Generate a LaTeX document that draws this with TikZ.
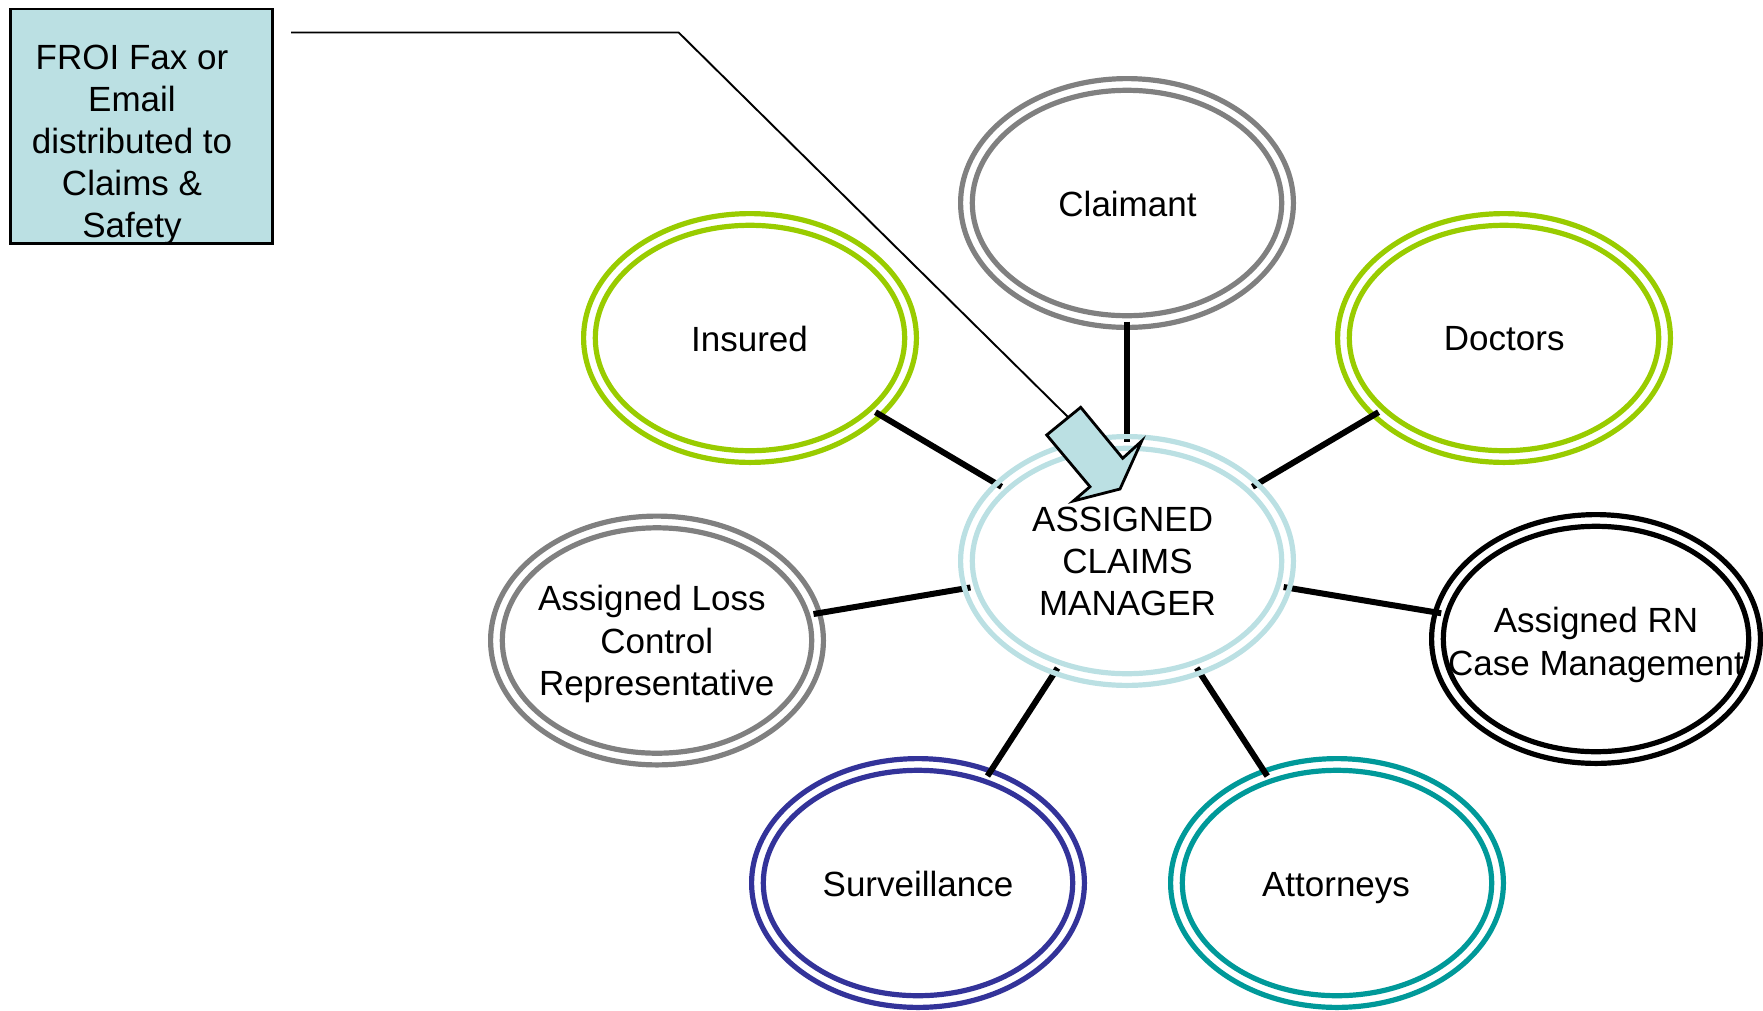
\documentclass[tikz,border=0pt]{standalone}
\usepackage{fontspec}
\setmainfont{Liberation Sans}
\usetikzlibrary{shapes.geometric,calc,backgrounds}
\definecolor{lblue}{HTML}{BBE0E3}
\definecolor{ringgray}{HTML}{808080}
\definecolor{ringgreen}{HTML}{99CC00}
\definecolor{ringnavy}{HTML}{333399}
\definecolor{ringteal}{HTML}{009999}
\tikzset{
  ring/.style={ellipse, draw=#1, line width=5.2pt, inner sep=0pt, outer sep=0pt,
    minimum width=332.8pt, minimum height=248.8pt,
    path picture={\draw[#1, line width=5.2pt] (path picture bounding box.center)
      ellipse [x radius=154.7pt, y radius=112.7pt];}},
  txt/.style={align=center, inner sep=0pt, font=\fontsize{35pt}{42.2pt}\selectfont},
  conn/.style={line width=6pt, black, shorten <=-5.85pt, shorten >=-5.85pt},
  froibox/.style={rectangle, draw=black, fill=lblue, line width=2.8pt,
    minimum width=262.2pt, minimum height=234.7pt, inner sep=0pt},
  pointer/.style={line width=1.9pt, black},
  blockarrow/.style={draw=black, fill=lblue, line width=2.8pt, line join=miter}
}
\begin{document}
\begin{tikzpicture}[x=1pt,y=-1pt]
\useasboundingbox (0,0) rectangle (1763,1010);

% central ring (drawn above the connectors)
\node[ring=lblue] (c) at (1127,561) {};

% satellite rings and connectors, below the central ring
\begin{scope}[on background layer]
  \node[ring=ringgray] (claimant) at (1127,203) {};
  \node[ring=ringgreen] (insured) at (750,338) {};
  \node[ring=ringgreen] (doctors) at (1504,338) {};
  \node[ring=ringgray] (loss) at (657,640.5) {};
  \node[ring=black, minimum width=328.8pt,
    path picture={\draw[black, line width=5.2pt] (path picture bounding box.center)
        ellipse [x radius=152.7pt, y radius=112.7pt];}] (rn) at (1596,639) {};
  \node[ring=ringnavy] (surv) at (918,883) {};
  \node[ring=ringteal] (att) at (1337,883) {};
  \foreach \s in {claimant,insured,doctors,loss,rn,surv,att}
    \draw[conn] (\s) -- (c);
\end{scope}

% texts
\node[txt] (c-t) at (1127.5,561.4) {ASSIGNED\hspace*{0.278em}\\CLAIMS\hspace*{0.278em}\\MANAGER};
\node[txt] (claimant-t) at (1127.5,204) {Claimant};
\node[txt] (insured-t) at (749.5,339) {Insured};
\node[txt] (doctors-t) at (1504.2,339) {Doctors};
\node[txt] (loss-t) at (656.7,644) {Assigned Loss\hspace*{0.278em}\\Control\\Representative};
\node[txt] (rn-t) at (1596,645) {Assigned RN\\Case Management};
\node[txt] (surv-t) at (918,884) {Surveillance};
\node[txt] (att-t) at (1336,887.7) {Attorneys};

% FROI box
\node[froibox] (froi) at (141.5,126.25) {};
\node[txt] (froi-t) at (132,145) {FROI Fax or\\Email\\distributed to\\Claims \&\\Safety};

% pointer line and block arrow
\coordinate (lstart) at (291,32.5);
\coordinate (lbend) at (678.6,32.5);
\coordinate (ltail) at (1070,419);
\draw[pointer] (lstart) -- (lbend) -- (ltail);
\draw[blockarrow] (1080.7,407.3) -- (1122.7,458.3) -- (1141.7,441) -- (1120,489)
  -- (1073.3,501) -- (1090,486.7) -- (1046.7,435) -- cycle;
\end{tikzpicture}
\end{document}
